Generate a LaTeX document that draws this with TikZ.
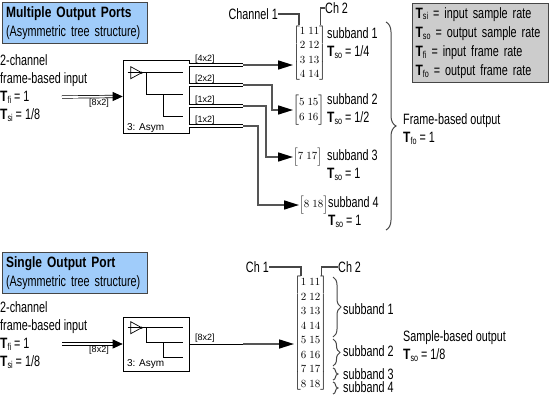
\documentclass[tikz,border=0pt]{standalone}
\usepackage{fontspec}
\setmainfont{Liberation Sans}[FakeStretch=0.72, BoldFeatures={FakeStretch=0.8}]
\newfontfamily\blkfont{Liberation Sans}
\usetikzlibrary{positioning,arrows.meta,decorations.pathreplacing}

\definecolor{titleblue}{RGB}{160,204,250}
\definecolor{legendgray}{RGB}{204,204,204}
\definecolor{edgegray}{RGB}{70,70,70}
\definecolor{conngray}{RGB}{85,85,85}

\newcommand{\rate}[1]{\textbf{T}{\fontsize{10}{10}\selectfont\raisebox{-0.35ex}{#1}}}
\newcommand{\chmat}[1]{$\left[\begin{array}{@{}l@{\hspace{3pt}}l@{}}#1\end{array}\right]$}

\begin{document}
\begin{tikzpicture}[x=1pt, y=-1pt,
% node styles
titlebox/.style={rectangle, draw=edgegray, line width=1.2pt, fill=titleblue, text width=138pt, inner xsep=3.5pt, inner ysep=2pt, minimum height=41pt, align=left, font=\fontsize{15}{19}\selectfont},
legend/.style={rectangle, draw=edgegray, line width=1.2pt, fill=legendgray, text width=130pt, inner xsep=3pt, minimum height=79pt, align=left, font=\fontsize{15}{19.3}\selectfont},
txt/.style={inner sep=0pt, align=left, font=\fontsize{15}{18}\selectfont},
blk/.style={rectangle, draw=black, line width=0.6pt, minimum width=66pt},
port/.style={inner sep=0pt, font=\blkfont\fontsize{9}{9}\selectfont},
mat/.style={inner sep=0pt, anchor=west, font=\fontsize{10.5}{14.5}\selectfont},
% line styles
dbl/.style={draw=black, double=white, double distance=1.8pt, line width=0.7pt},
tip/.style={-{Triangle[length=10pt, width=9pt]}, line width=0.7pt},
conn/.style={draw=conngray, line width=1.6pt, -{Triangle[length=15pt, width=9pt, color=black]}},
lbl/.style={draw=edgegray, line width=1.2pt},
brc/.style={draw=edgegray, line width=1pt, decorate, decoration={brace, amplitude=#1}}
]
\useasboundingbox (0,0) rectangle (551,402);

% ---------- multiple output ports ----------
\node[titlebox, anchor=north west] (ttl1) at (2,2) {\textbf{Multiple Output Ports}\\(Asymmetric tree structure)};
\node[txt, anchor=west] (in1txt) at (0,88) {2-channel\\frame-based input\\\rate{fi} = 1\\\rate{si} = 1/8};

\node[blk, minimum height=73pt] (blk1) at (156,96.5) {};
\begin{scope}[shift={(blk1.north west)}, line width=0.7pt]
  \draw (8,7) -- (8,19) -- (19,13) -- cycle;
  \draw (5,13) -- (60,13);
  \fill (19,13) circle (1.2);
  \draw (24,13) -- (24,35) -- (60,35);
  \draw (41,35) -- (41,57) -- (60,57);
  \node[port, anchor=west, font=\blkfont\fontsize{10}{10}\selectfont] at (4,68) {3: Asym};
\end{scope}

\coordinate (in1) at (62,97);
\draw[dbl] (in1) -- ([xshift=-8pt]blk1.west);
\draw[tip] ([xshift=-10pt]blk1.west) -- (blk1.west);
\node[port] at (99,103) {[8x2]};

% output ports
\coordinate (j1) at (243,65);
\coordinate (j2) at (243,85);
\coordinate (j3) at (243,106);
\coordinate (j4) at (243,126);
\draw[dbl] (blk1.east |- j1) -- (j1) node[port, pos=0.1, anchor=south west, yshift=1.5pt] {[4x2]};
\draw[dbl] (blk1.east |- j2) -- (j2) node[port, pos=0.1, anchor=south west, yshift=1.5pt] {[2x2]};
\draw[dbl] (blk1.east |- j3) -- (j3) node[port, pos=0.1, anchor=south west, yshift=1.5pt] {[1x2]};
\draw[dbl] (blk1.east |- j4) -- (j4) node[port, pos=0.1, anchor=south west, yshift=1.5pt] {[1x2]};

% subband outputs
\node[mat] (m1) at (293,53) {\chmat{1&11\\2&12\\3&13\\4&14}};
\node[mat] (m2) at (293,110) {\chmat{5&15\\6&16}};
\node[mat] (m3) at (293,157) {\chmat{7&17}};
\node[mat] (m4) at (299,205) {\chmat{8&18}};

\draw[conn] (j1) -- (j1 -| m1.west);
\draw[conn] (j2) -- ++(29,0) |- (m2.west);
\draw[conn] (j3) -- ++(23,0) |- (m3.west);
\draw[conn] (j4) -- ++(15,0) |- (m4.west);

\node[txt, anchor=west] (sb1) at (327,43) {subband 1\\\rate{so} = 1/4};
\node[txt, anchor=west] (sb2) at (327,109) {subband 2\\\rate{so} = 1/2};
\node[txt, anchor=west] (sb3) at (327,165) {subband 3\\\rate{so} = 1};
\node[txt, anchor=west] (sb4) at (328,212) {subband 4\\\rate{so} = 1};

% channel labels
\node[txt, anchor=east] (ch1) at (278,14) {Channel 1};
\node[txt, anchor=west] (ch2) at (325,8) {Ch 2};
\draw[lbl] (ch1.east) -| ([xshift=6pt, yshift=-1pt]m1.north west);
\draw[lbl] (ch2.west) -| ([xshift=-6pt, yshift=-1pt]m1.north east);

\draw[brc=10pt] (386,22) -- (386,230);
\node[txt, anchor=west] (fout) at (403,129) {Frame-based output\\\rate{fo} = 1};

% legend
\node[legend, anchor=north west] (leg) at (412,3) {\rate{si} = input sample rate\\\rate{so} = output sample rate\\\rate{fi} = input frame rate\\\rate{fo} = output frame rate};

% ---------- single output port ----------
\node[titlebox, anchor=north west] (ttl2) at (2,252) {\textbf{Single Output Port}\\(Asymmetric tree structure)};
\node[txt, anchor=west] (in2txt) at (0,335) {2-channel\\frame-based input\\\rate{fi} = 1\\\rate{si} = 1/8};

\node[blk, minimum height=54pt] (blk2) at (156,344) {};
\begin{scope}[shift={(blk2.north west)}, line width=0.7pt]
  \draw (8,5) -- (8,17) -- (19,11) -- cycle;
  \draw (5,11) -- (60,11);
  \fill (19,11) circle (1.2);
  \draw (24,11) -- (24,26) -- (60,26);
  \draw (41,26) -- (41,41) -- (60,41);
  \node[port, anchor=west, font=\blkfont\fontsize{10}{10}\selectfont] at (4,47) {3: Asym};
\end{scope}

\coordinate (in2) at (62,344);
\draw[dbl] (in2) -- ([xshift=-8pt]blk2.west);
\draw[tip] ([xshift=-10pt]blk2.west) -- (blk2.west);
\node[port] at (99,350) {[8x2]};

\coordinate (j5) at (243,344);
\node[mat] (mb) at (294,333.5) {\chmat{1&11\\2&12\\3&13\\4&14\\5&15\\6&16\\7&17\\8&18}};
\draw[line width=0.7pt] (blk2.east) -- (j5) node[port, pos=0.1, anchor=south west, yshift=1.5pt] {[8x2]};
\draw[conn] (j5) -- (j5 -| mb.west);

\node[txt, anchor=east] (chb1) at (269,267) {Ch 1};
\node[txt, anchor=west] (chb2) at (338,267) {Ch 2};
\draw[lbl] (chb1.east) -| ([xshift=7pt, yshift=-1pt]mb.north west);
\draw[lbl] (chb2.west) -| ([xshift=-6pt, yshift=-1pt]mb.north east);

\draw[brc=8pt] (333,277) -- (333,337);
\draw[brc=7pt] (333,339) -- (333,366);
\draw[brc=5pt] (333,368) -- (333,380);
\draw[brc=5pt] (333,382) -- (333,394);
\node[txt, anchor=west] (bs1) at (343,309) {subband 1};
\node[txt, anchor=west] (bs2) at (343,351) {subband 2};
\node[txt, anchor=west] (bs3) at (343,374) {subband 3};
\node[txt, anchor=west] (bs4) at (343,387) {subband 4};

\node[txt, anchor=west] (sout) at (403,346) {Sample-based output\\\rate{so} = 1/8};

\end{tikzpicture}
\end{document}
